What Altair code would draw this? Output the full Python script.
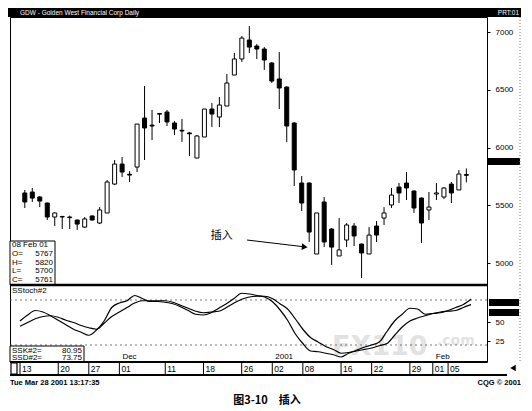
import altair as alt
import pandas as pd

# ---- data ----
opens = [5608,5616,5573,5521,5400,5400,5400,5374,5313,5409,5348,5435,5685,5858,5770,5832,6256,6195,6295,6308,
         6213,6150,6127,5910,6092,6334,6265,6360,6628,6767,6931,6879,6853,6732,6594,6524,6213,5694,5694,5080,
         5530,5296,5063,5201,5322,5166,5080,5322,5391,5504,5659,5694,5625,5564,5461,5599,5573,5685,5634,5767]
highs = [5634,5651,5582,5525,5440,5410,5412,5378,5400,5415,5486,5720,5893,5919,5798,6204,6533,6326,6300,6326,
         6230,6248,6135,6109,6334,6386,6438,6637,6819,6966,7052,6896,6870,6741,6827,6530,6220,5755,5700,5435,
         5573,5305,5391,5348,5348,5170,5313,5365,5486,5651,5694,5789,5630,5570,5616,5694,5659,5703,5807,5820]
lows = [5478,5530,5486,5374,5322,5296,5296,5288,5305,5370,5339,5435,5677,5746,5703,5789,5893,6066,6213,6187,
        6109,6049,5928,5910,6092,6178,6178,6360,6628,6741,6819,6767,6672,6559,6334,6049,5668,5452,5184,5080,
        5140,4985,5063,5140,5149,4872,5080,5184,5331,5478,5521,5547,5435,5175,5374,5547,5556,5521,5634,5700]
closes = [5530,5564,5538,5400,5435,5405,5395,5339,5383,5374,5461,5703,5858,5789,5763,6204,6170,6187,6290,6222,
          6161,6144,6120,6101,6334,6291,6369,6559,6767,6948,6870,6853,6758,6576,6516,6187,5807,5521,5270,5435,
          5184,5140,5115,5331,5236,5089,5244,5244,5435,5590,5608,5651,5478,5348,5486,5608,5651,5608,5772,5761]
ssk = [52,60,66,64,59,53,47,41,37,33,40,52,70,76,79,86,82,78,78,77,75,71,66,61,60,63,69,75,82,89,
       88,86,84,78,67,53,35,22,12,11,9,7,4,9,13,17,20,24,38,52,61,69,68,61,62,63,66,70,74,80.95]
ssd = [45,50,55,58,59,57,53,50,46,43,41,49,58,64,70,76,79,79,79,79,77,73,69,65,63,64,65,70,76,81,
       84,85,85,82,75,68,55,41,30,24,18,14,9,10,12,14,16,19,22,33,44,52,56,59,62,64,65,66,70,73.75]

tick_idx = [0, 5, 9, 13, 19, 24, 29, 33, 37, 42, 46, 51, 54, 56]
tick_lab = ["13", "20", "27", "01", "11", "18", "26", "02", "08", "16", "22", "29", "01", "05"]
month_idx = [13, 33, 54]
month_lab = ["Dec", "2001", "Feb"]
price_ticks = [5000, 5250, 5500, 5750, 6000, 6250, 6500, 6750, 7000]
stoch_ticks = [25, 50]
stoch_levels = [80, 20]
last_date = "08 Feb 01"
note_text = "插入"
note_pos = [26.3, 5236]
arrow_from = [29.7, 5201]
arrow_to = [37.4, 5142]

FONT = "Liberation Sans"
W = 477
H_PRICE = 268
H_STOCH = 77
H_DATE = 13

df = pd.DataFrame({"i": list(range(len(opens))), "o": opens, "h": highs, "l": lows, "c": closes,
                   "k": ssk, "d": ssd})
df["fill"] = ["black" if c < o else "white" for o, c in zip(opens, closes)]

xs = alt.Scale(domain=[-1.31, 61.09], nice=False, zero=False)
ys = alt.Scale(domain=[4812, 7130], nice=False, zero=False)
ss = alt.Scale(domain=[-2.67, 100], nice=False, zero=False)
one = pd.DataFrame({"a": [0]})

# ---- title bar ----
bar = alt.Chart(one).mark_rect(color="black").encode(
    x=alt.value(-2), x2=alt.value(511), y=alt.value(0), y2=alt.value(9))
bar_t = alt.Chart(one).mark_text(color="white", fontSize=6.5, font=FONT, align="left", baseline="middle").encode(
    x=alt.value(10), y=alt.value(4.5), text=alt.value("GDW - Golden West Financial Corp Daily"))
bar_t2 = alt.Chart(one).mark_text(color="white", fontSize=6.5, font=FONT, align="right", baseline="middle").encode(
    x=alt.value(509), y=alt.value(4.5), text=alt.value("PRT:01"))
title_bar = alt.layer(bar, bar_t, bar_t2).properties(width=W, height=9, view=alt.ViewBackground(stroke=None))

# ---- price panel ----
yax = alt.Axis(orient="right", values=price_ticks, format="d", title=None, grid=False, domain=False, tickSize=3,
               tickColor="black", labelFont=FONT, labelFontSize=8, labelColor="black", labelPadding=5)
base = alt.Chart(df).encode(x=alt.X("i:Q", scale=xs, axis=None))
wicks = base.mark_rule(color="black", strokeWidth=1).encode(
    y=alt.Y("l:Q", scale=ys, axis=yax), y2="h:Q")
bodies = base.mark_bar(size=4, stroke="black", strokeWidth=1).encode(
    y=alt.Y("o:Q", scale=ys, axis=yax), y2="c:Q", fill=alt.Fill("fill:N", scale=None))

note = alt.Chart(pd.DataFrame({"x": [note_pos[0]], "y": [note_pos[1]], "t": [note_text]})).mark_text(
    font="Noto Sans CJK SC", fontSize=11, color="black").encode(
    x=alt.X("x:Q", scale=xs), y=alt.Y("y:Q", scale=ys), text="t:N")
arr = pd.DataFrame({"x": [arrow_from[0]], "y": [arrow_from[1]], "x2": [arrow_to[0]], "y2": [arrow_to[1]]})
arrow_line = alt.Chart(arr).mark_rule(color="black", strokeWidth=1).encode(
    x=alt.X("x:Q", scale=xs), y=alt.Y("y:Q", scale=ys), x2="x2:Q", y2="y2:Q")
arrow_head = alt.Chart(arr).mark_point(shape="triangle-right", filled=True, color="black", size=45, angle=6,
                                       opacity=1).encode(
    x=alt.X("x2:Q", scale=xs), y=alt.Y("y2:Q", scale=ys))

info_lab = [last_date, "O=", "H=", "L=", "C="]
info_val = ["", str(opens[-1]), str(highs[-1]), str(lows[-1]), str(closes[-1])]
info = pd.DataFrame({"lab": info_lab, "val": info_val, "row": list(range(5))})
info["yy"] = [228 + 8.8 * r for r in info["row"]]
info_box = alt.Chart(one).mark_rect(fill="white", stroke="black", strokeWidth=1).encode(
    x=alt.value(0), x2=alt.value(45), y=alt.value(224), y2=alt.value(H_PRICE))
info_lab_t = alt.Chart(info).mark_text(font=FONT, fontSize=8, align="left", baseline="middle", color="black").encode(
    x=alt.value(2), y=alt.Y("yy:Q", scale=None), text="lab:N")
info_val_t = alt.Chart(info).mark_text(font=FONT, fontSize=8, align="right", baseline="middle", color="black").encode(
    x=alt.value(43), y=alt.Y("yy:Q", scale=None), text="val:N")
price_marker = alt.Chart(one).mark_rect(color="black").encode(
    x=alt.value(W), x2=alt.value(510), y=alt.value(141), y2=alt.value(148))
bottom_rule = alt.Chart(one).mark_rule(color="black", strokeWidth=2.5).encode(
    x=alt.value(0), x2=alt.value(W), y=alt.value(H_PRICE))
right_dots_p = alt.Chart(one).mark_rule(color="#777", strokeDash=[1, 2], strokeWidth=1).encode(
    x=alt.value(510), y=alt.value(0), y2=alt.value(H_PRICE))

price = alt.layer(wicks, bodies, note, arrow_line, arrow_head, info_box, info_lab_t, info_val_t,
                  price_marker, bottom_rule, right_dots_p).properties(
    width=W, height=H_PRICE, view=alt.ViewBackground(stroke="black", strokeWidth=1))

# ---- stochastic panel ----
sax = alt.Axis(orient="right", values=stoch_ticks, format="d", title=None, grid=False, domain=False, tickSize=3,
               tickColor="black", labelFont=FONT, labelFontSize=8, labelColor="black", labelPadding=5)
sbase = alt.Chart(df).encode(x=alt.X("i:Q", scale=xs, axis=None))
kline = sbase.mark_line(color="black", strokeWidth=1.2, interpolate="monotone").encode(
    y=alt.Y("k:Q", scale=ss, axis=sax))
dline = sbase.mark_line(color="black", strokeWidth=1.2, interpolate="monotone").encode(
    y=alt.Y("d:Q", scale=ss, axis=sax))
levels = alt.Chart(pd.DataFrame({"v": stoch_levels})).mark_rule(color="#555", strokeDash=[2, 3],
                                                                 strokeWidth=0.8).encode(
    y=alt.Y("v:Q", scale=ss, axis=sax))
wm1 = alt.Chart(one).mark_text(text="FX110", font="DejaVu Sans", fontSize=27, fontWeight="bold",
                               color="#e2e2e2", align="left", baseline="alphabetic").encode(
    x=alt.value(322), y=alt.value(70))
wm2 = alt.Chart(one).mark_text(text=".com", font="DejaVu Sans", fontSize=14, fontWeight="bold",
                               color="#e2e2e2", align="left", baseline="alphabetic").encode(
    x=alt.value(427), y=alt.value(60))
stitle = alt.Chart(one).mark_text(text="SStoch#2", font=FONT, fontSize=8, align="left", baseline="middle",
                                  color="black").encode(x=alt.value(2), y=alt.value(6))
sbox = alt.Chart(one).mark_rect(fill="white", stroke="black", strokeWidth=1).encode(
    x=alt.value(0), x2=alt.value(74), y=alt.value(61), y2=alt.value(H_STOCH))
sinfo = pd.DataFrame({"lab": ["SSK#2=", "SSD#2="], "val": [f"{ssk[-1]:.2f}", f"{ssd[-1]:.2f}"],
                      "yy": [65.5, 73]})
sinfo_l = alt.Chart(sinfo).mark_text(font=FONT, fontSize=8, align="left", baseline="middle", color="black").encode(
    x=alt.value(2), y=alt.Y("yy:Q", scale=None), text="lab:N")
sinfo_v = alt.Chart(sinfo).mark_text(font=FONT, fontSize=8, align="right", baseline="middle", color="black").encode(
    x=alt.value(72), y=alt.Y("yy:Q", scale=None), text="val:N")
months = alt.Chart(pd.DataFrame({"i": month_idx, "t": month_lab})).mark_text(
    font=FONT, fontSize=8, align="left", baseline="middle", dx=3, color="black").encode(
    x=alt.X("i:Q", scale=xs), y=alt.value(72), text="t:N")
kbox = alt.Chart(one).mark_rect(color="black").encode(
    x=alt.value(W + 2), x2=alt.value(509), y=alt.value(14), y2=alt.value(21))
dbox = alt.Chart(one).mark_rect(color="black").encode(
    x=alt.value(W + 2), x2=alt.value(509), y=alt.value(24), y2=alt.value(31))
right_dots_s = alt.Chart(one).mark_rule(color="#777", strokeDash=[1, 2], strokeWidth=1).encode(
    x=alt.value(510), y=alt.value(0), y2=alt.value(H_STOCH))

stoch = alt.layer(wm1, wm2, levels, kline, dline, stitle, sbox, sinfo_l, sinfo_v, months, kbox, dbox,
                  right_dots_s).properties(
    width=W, height=H_STOCH, view=alt.ViewBackground(stroke="black", strokeWidth=1))

# ---- date row ----
ticks = pd.DataFrame({"i": tick_idx, "t": tick_lab})
trules = alt.Chart(ticks).mark_rule(color="black", strokeWidth=1).encode(x=alt.X("i:Q", scale=xs, axis=None))
tlabels = alt.Chart(ticks).mark_text(font=FONT, fontSize=8.5, align="left", baseline="middle", dx=2,
                                     color="black").encode(
    x=alt.X("i:Q", scale=xs, axis=None), y=alt.value(7), text="t:N")
scrollbox = alt.Chart(one).mark_rect(fill="white", stroke="black", strokeWidth=1.2).encode(
    x=alt.value(1), x2=alt.value(7), y=alt.value(1), y2=alt.value(12))
top_rule = alt.Chart(one).mark_rule(color="black", strokeWidth=2).encode(
    x=alt.value(0), x2=alt.value(W), y=alt.value(0))
bot_rule = alt.Chart(one).mark_rule(color="black", strokeWidth=2).encode(
    x=alt.value(0), x2=alt.value(W + 20), y=alt.value(H_DATE))
nav = alt.Chart(one).mark_point(shape="triangle-left", filled=True, color="black", size=40, opacity=1).encode(
    x=alt.value(503), y=alt.value(6))
foot_l = alt.Chart(one).mark_text(text="Tue Mar 28 2001 13:17:35", font=FONT, fontSize=7.5, fontWeight="bold",
                                  align="left", baseline="middle", color="black").encode(
    x=alt.value(0), y=alt.value(21))
foot_r = alt.Chart(one).mark_text(text="CQG © 2001", font=FONT, fontSize=7.5, fontWeight="bold",
                                  align="right", baseline="middle", color="black").encode(
    x=alt.value(511), y=alt.value(21))
caption = alt.Chart(one).mark_text(text="图3-10　插入", font="Noto Sans CJK SC", fontSize=11, fontWeight="bold",
                                   align="center", baseline="middle", color="black").encode(
    x=alt.value(257), y=alt.value(39))

date_row = alt.layer(trules, tlabels, scrollbox, top_rule, bot_rule, nav, foot_l, foot_r, caption).properties(
    width=W, height=H_DATE, view=alt.ViewBackground(stroke=None))

chart = alt.vconcat(title_bar, price, stoch, date_row, spacing=0).properties(
    bounds="flush", padding=0).configure_view(stroke=None)

chart.save("out.html", embed_options={"renderer": "svg", "actions": False})
